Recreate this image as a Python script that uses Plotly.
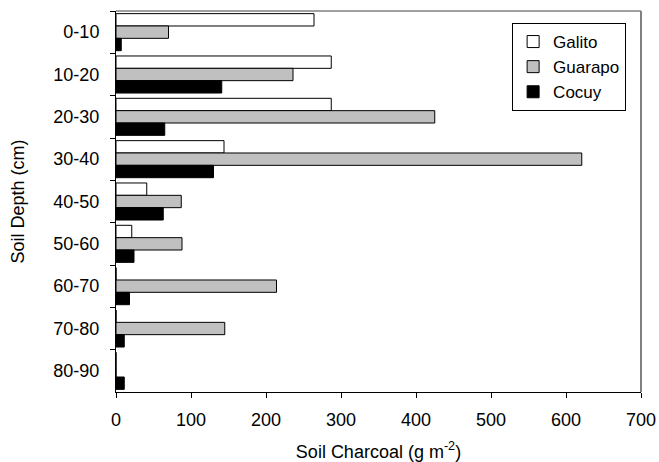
import plotly.graph_objects as go

depths = ["0-10", "10-20", "20-30", "30-40", "40-50", "50-60", "60-70", "70-80", "80-90"]
galito = [264, 287, 287, 144, 41, 21, 0, 0, 0]
guarapo = [70, 236, 425, 621, 87, 88, 214, 145, 0]
cocuy = [7, 141, 65, 130, 63, 24, 18, 11, 11]

x_ticks = [0, 100, 200, 300, 400, 500, 600, 700]

FONT = "Liberation Sans, Arial, sans-serif"

fig = go.Figure()
for name, vals, col in [("Galito", galito, "#ffffff"),
                        ("Guarapo", guarapo, "#c0c0c0"),
                        ("Cocuy", cocuy, "#000000")]:
    fig.add_trace(go.Bar(y=depths, x=vals, name=name, orientation="h",
                         marker=dict(color=col, line=dict(color="#000000", width=1))))

fig.update_layout(
    width=659, height=462,
    margin=dict(l=115.5, r=18, t=11, b=70, autoexpand=False),
    paper_bgcolor="white", plot_bgcolor="white",
    font=dict(family=FONT, size=18, color="black"),
    barmode="group", bargap=0.125, bargroupgap=0,
    showlegend=True,
    legend=dict(x=(512 - 115.5) / 525.5, y=0.9685, xanchor="left", yanchor="top",
                bordercolor="black", borderwidth=1, bgcolor="white",
                font=dict(size=17), traceorder="normal", tracegroupgap=0,
                itemwidth=30),
    shapes=[
        dict(type="line", xref="paper", yref="paper", x0=0, x1=1, y0=1, y1=1,
             line=dict(color="#808080", width=1.5)),
        dict(type="line", xref="paper", yref="paper", x0=1, x1=1, y0=0, y1=1,
             line=dict(color="#808080", width=2)),
    ],
)
fig.update_xaxes(range=[0, 700], tickvals=x_ticks, ticks="outside", ticklen=5,
                 tickcolor="black", showline=True, linecolor="black", linewidth=1,
                 showgrid=False, zeroline=False, ticklabelstandoff=6, automargin=False,
                 title=dict(text="Soil Charcoal (g m<sup>-2</sup>)", standoff=16,
                            font=dict(size=18)))
fig.update_yaxes(autorange="reversed", ticks="outside", tickson="boundaries", ticklen=5,
                 tickcolor="black", showline=True, linecolor="black", linewidth=1,
                 showgrid=False, zeroline=False, ticklabelstandoff=12, automargin=False,
                 title=dict(text="Soil Depth (cm)", standoff=24, font=dict(size=18)))

fig.write_html("out.html", config={"displayModeBar": False},
               post_script="document.body.style.margin='0';document.body.style.overflow='hidden';")
